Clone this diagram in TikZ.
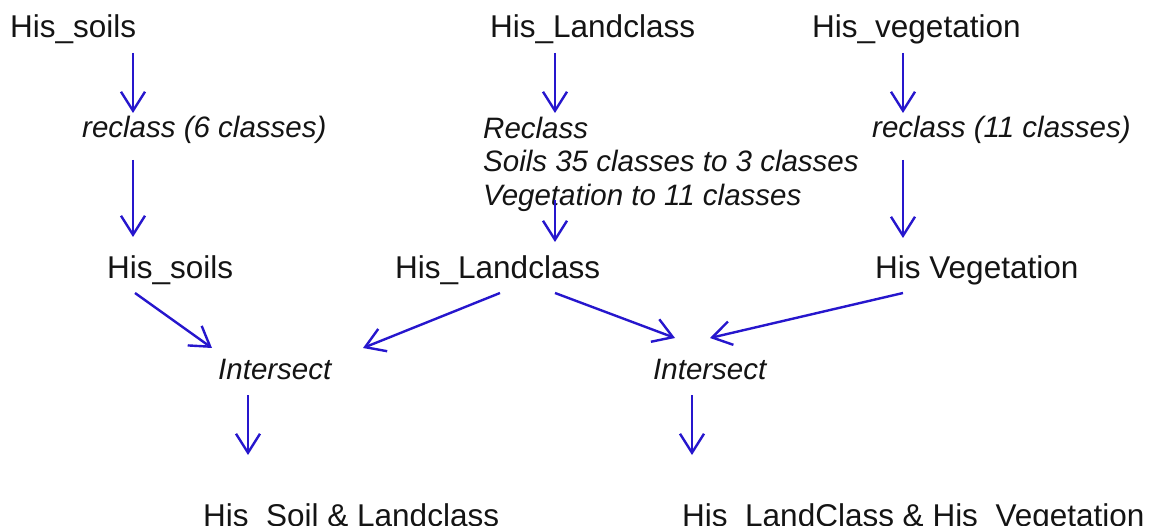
\documentclass[tikz,border=0pt]{standalone}
\usepackage{fontspec}
\setmainfont{Liberation Sans}
\usetikzlibrary{arrows.meta,calc}

\definecolor{flowblue}{RGB}{38,22,205}
\definecolor{ink}{RGB}{20,20,20}

\begin{document}
\begin{tikzpicture}[x=1pt,y=-1pt,
  lbl/.style={inner sep=0pt,anchor=base west,text=ink,
    font=\fontsize{31.5}{36}\selectfont},
  op/.style={inner sep=0pt,anchor=base west,text=ink,
    font=\fontsize{29.5}{33.5}\selectfont\itshape},
  arr/.style={draw=flowblue,line width=2.4pt,
    -{Straight Barb[length=19pt,width=24pt,line width=2.4pt]}}]

\useasboundingbox[fill=white] (0,0) rectangle (1159,526);

% source layers
\node[lbl] (tSoils) at (10,38)  {His\_soils};
\node[lbl] (tLand)  at (490,38) {His\_Landclass};
\node[lbl] (tVeg)   at (812,38) {His\_vegetation};

% reclassification steps
\node[op] (rSoils) at (82,138)  {reclass (6 classes)};
\node[op,anchor=north west,align=left] (rLand) at (483,116.5)
  {Reclass\\Soils 35 classes to 3 classes\\Vegetation to 11 classes};
\node[op] (rVeg)   at (872,138) {reclass (11 classes)};

% reclassified layers
\node[lbl] (mSoils) at (107,279) {His\_soils};
\node[lbl] (mLand)  at (395,279) {His\_Landclass};
\node[lbl] (mVeg)   at (875,279) {His Vegetation};

% overlay operations
\node[op] (iLeft)  at (218,380) {Intersect};
\node[op] (iRight) at (653,380) {Intersect};

% results
\node[lbl] (bLeft)  at (203,526) {His\_Soil \& Landclass};
\node[lbl] (bRight) at (682,526) {His\_LandClass \& His\_Vegetation};

% soils column
\draw[arr] ($(tSoils.base west)+(123,15)$) -- ($(rSoils.base west)+(51,-25)$);
\draw[arr] ($(rSoils.base west)+(51,22)$)  -- ($(mSoils.base west)+(26,-42)$);
% landclass column
\draw[arr] ($(tLand.base west)+(65,15)$)   -- ($(rLand.north west)+(72,-3.5)$);
\draw[arr] ($(rLand.north west)+(72,83.5)$) -- ($(mLand.base west)+(160,-37)$);
% vegetation column
\draw[arr] ($(tVeg.base west)+(91,15)$)    -- ($(rVeg.base west)+(31,-25)$);
\draw[arr] ($(rVeg.base west)+(31,22)$)    -- ($(mVeg.base west)+(28,-41)$);

% inputs to the intersections
\draw[arr] ($(mSoils.base west)+(28,14)$)  -- ($(iLeft.base west)+(-6,-32)$);
\draw[arr] ($(mLand.base west)+(105,14)$)  -- ($(iLeft.base west)+(145,-32)$);
\draw[arr] ($(mLand.base west)+(160,14)$)  -- ($(iRight.base west)+(22,-42)$);
\draw[arr] ($(mVeg.base west)+(28,14)$)    -- ($(iRight.base west)+(57,-42)$);

% outputs
\draw[arr] ($(iLeft.base west)+(30,15)$)   -- ($(bLeft.base west)+(45,-71)$);
\draw[arr] ($(iRight.base west)+(39,15)$)  -- ($(bRight.base west)+(10,-71)$);
\end{tikzpicture}
\end{document}
